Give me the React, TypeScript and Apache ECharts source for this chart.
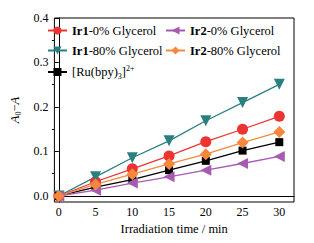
import React, { useEffect, useRef } from "react";
import * as echarts from "echarts";

const times = [0, 5, 10, 15, 20, 25, 30];
const ir1_0 = [0, 0.032, 0.061, 0.09, 0.122, 0.15, 0.179];
const ir1_80 = [0, 0.043, 0.086, 0.124, 0.169, 0.21, 0.251];
const ir2_0 = [0, 0.013, 0.029, 0.043, 0.058, 0.073, 0.089];
const ir2_80 = [0, 0.026, 0.049, 0.072, 0.094, 0.12, 0.144];
const ru = [0, 0.02, 0.037, 0.058, 0.079, 0.102, 0.121];
const xTicks = [0, 5, 10, 15, 20, 25, 30];
const yTicks = [0, 0.1, 0.2, 0.3, 0.4];
const yMinor = [0.05, 0.15, 0.25, 0.35];

const FONT = "'Liberation Serif', 'Times New Roman', serif";

export default function App() {
  const ref = useRef<HTMLDivElement>(null);
  useEffect(() => {
    document.body.style.margin = "0";
    const chart = echarts.init(ref.current!, null, { renderer: "svg" });
    const mk = (name: string, data: number[], color: string, symbol: string, size: number, rotate = 0) => ({
      name,
      type: "line",
      data: times.map((t, i) => [t, data[i]]),
      symbol,
      symbolSize: size,
      symbolRotate: rotate,
      lineStyle: { color, width: 1.3 },
      itemStyle: { color },
      z: 3,
    });
    const rich = {
      b: { fontFamily: FONT, fontSize: 12.5, fontWeight: "bold", color: "#000", lineHeight: 16 },
      n: { fontFamily: FONT, fontSize: 12.5, color: "#000", lineHeight: 16 },
      sub: { fontFamily: FONT, fontSize: 8, color: "#000", lineHeight: 8, verticalAlign: "bottom" },
      sup: { fontFamily: FONT, fontSize: 8, color: "#000", lineHeight: 8, verticalAlign: "top" },
    };
    const fmt = (name: string) =>
      name.startsWith("Ir")
        ? `{b|${name.slice(0, 3)}}{n|${name.slice(3)}}`
        : "{n|[Ru(bpy)}{sub|3}{n|]}{sup|2+}";
    const legendCommon = {
      orient: "vertical",
      padding: 0,
      itemWidth: 19,
      itemHeight: 10,
      itemGap: 7,
      formatter: fmt,
      textStyle: { fontFamily: FONT, fontSize: 12.5, color: "#000", rich },
    };
    chart.setOption({
      animation: false,
      textStyle: { fontFamily: FONT },
      grid: { left: 45, right: 20, top: 18, bottom: 41, show: true, borderColor: "#000", borderWidth: 1 },
      legend: [
        { ...legendCommon, left: 47, top: 24, data: ["Ir1-0% Glycerol", "Ir1-80% Glycerol", "[Ru(bpy)3]2+"] },
        { ...legendCommon, left: 165, top: 24, data: ["Ir2-0% Glycerol", "Ir2-80% Glycerol"] },
      ],
      xAxis: {
        type: "value",
        min: -0.6,
        max: 32,
        name: "Irradiation time / min",
        nameLocation: "middle",
        nameGap: 20,
        nameTextStyle: { fontFamily: FONT, fontSize: 12.5, color: "#000" },
        axisLine: { lineStyle: { color: "#000", width: 1 } },
        axisTick: { show: false },
        splitLine: { show: false },
        axisLabel: { customValues: xTicks, fontFamily: FONT, fontSize: 12, color: "#000", margin: 4 },
      },
      yAxis: [
        {
          type: "value",
          min: -0.0135,
          max: 0.4,
          name: "{i|A}{sub|0}{n|−}{i|A}",
          nameLocation: "middle",
          nameGap: 31,
          nameTextStyle: {
            rich: {
              i: { fontFamily: FONT, fontSize: 12.5, fontStyle: "italic", color: "#000", lineHeight: 16 },
              n: { fontFamily: FONT, fontSize: 12.5, color: "#000", lineHeight: 16 },
              sub: { fontFamily: FONT, fontSize: 8, color: "#000", lineHeight: 8, verticalAlign: "bottom" },
            },
          },
          axisLine: { show: true, lineStyle: { color: "#000", width: 1 } },
          axisTick: { show: true, customValues: yTicks, length: 4, lineStyle: { color: "#000" } },
          splitLine: { show: false },
          axisLabel: {
            customValues: yTicks,
            formatter: (v: number) => v.toFixed(1),
            fontFamily: FONT,
            fontSize: 12,
            color: "#000",
            margin: 6,
          },
        },
        {
          type: "value",
          position: "left",
          min: -0.0135,
          max: 0.4,
          axisLine: { show: false },
          axisTick: { show: true, customValues: yMinor, length: 2.5, lineStyle: { color: "#000" } },
          axisLabel: { show: false },
          splitLine: { show: false },
        },
      ],
      series: [
        mk("Ir1-0% Glycerol", ir1_0, "#ee3333", "circle", 11),
        mk("Ir1-80% Glycerol", ir1_80, "#2a8080", "triangle", 11, 180),
        mk("[Ru(bpy)3]2+", ru, "#000000", "rect", 8),
        mk("Ir2-0% Glycerol", ir2_0, "#a65bb1", "triangle", 11, 90),
        mk("Ir2-80% Glycerol", ir2_80, "#f5883c", "diamond", 12),
      ],
    });
    return () => chart.dispose();
  }, []);
  return <div ref={ref} style={{ width: 314, height: 243 }} />;
}
